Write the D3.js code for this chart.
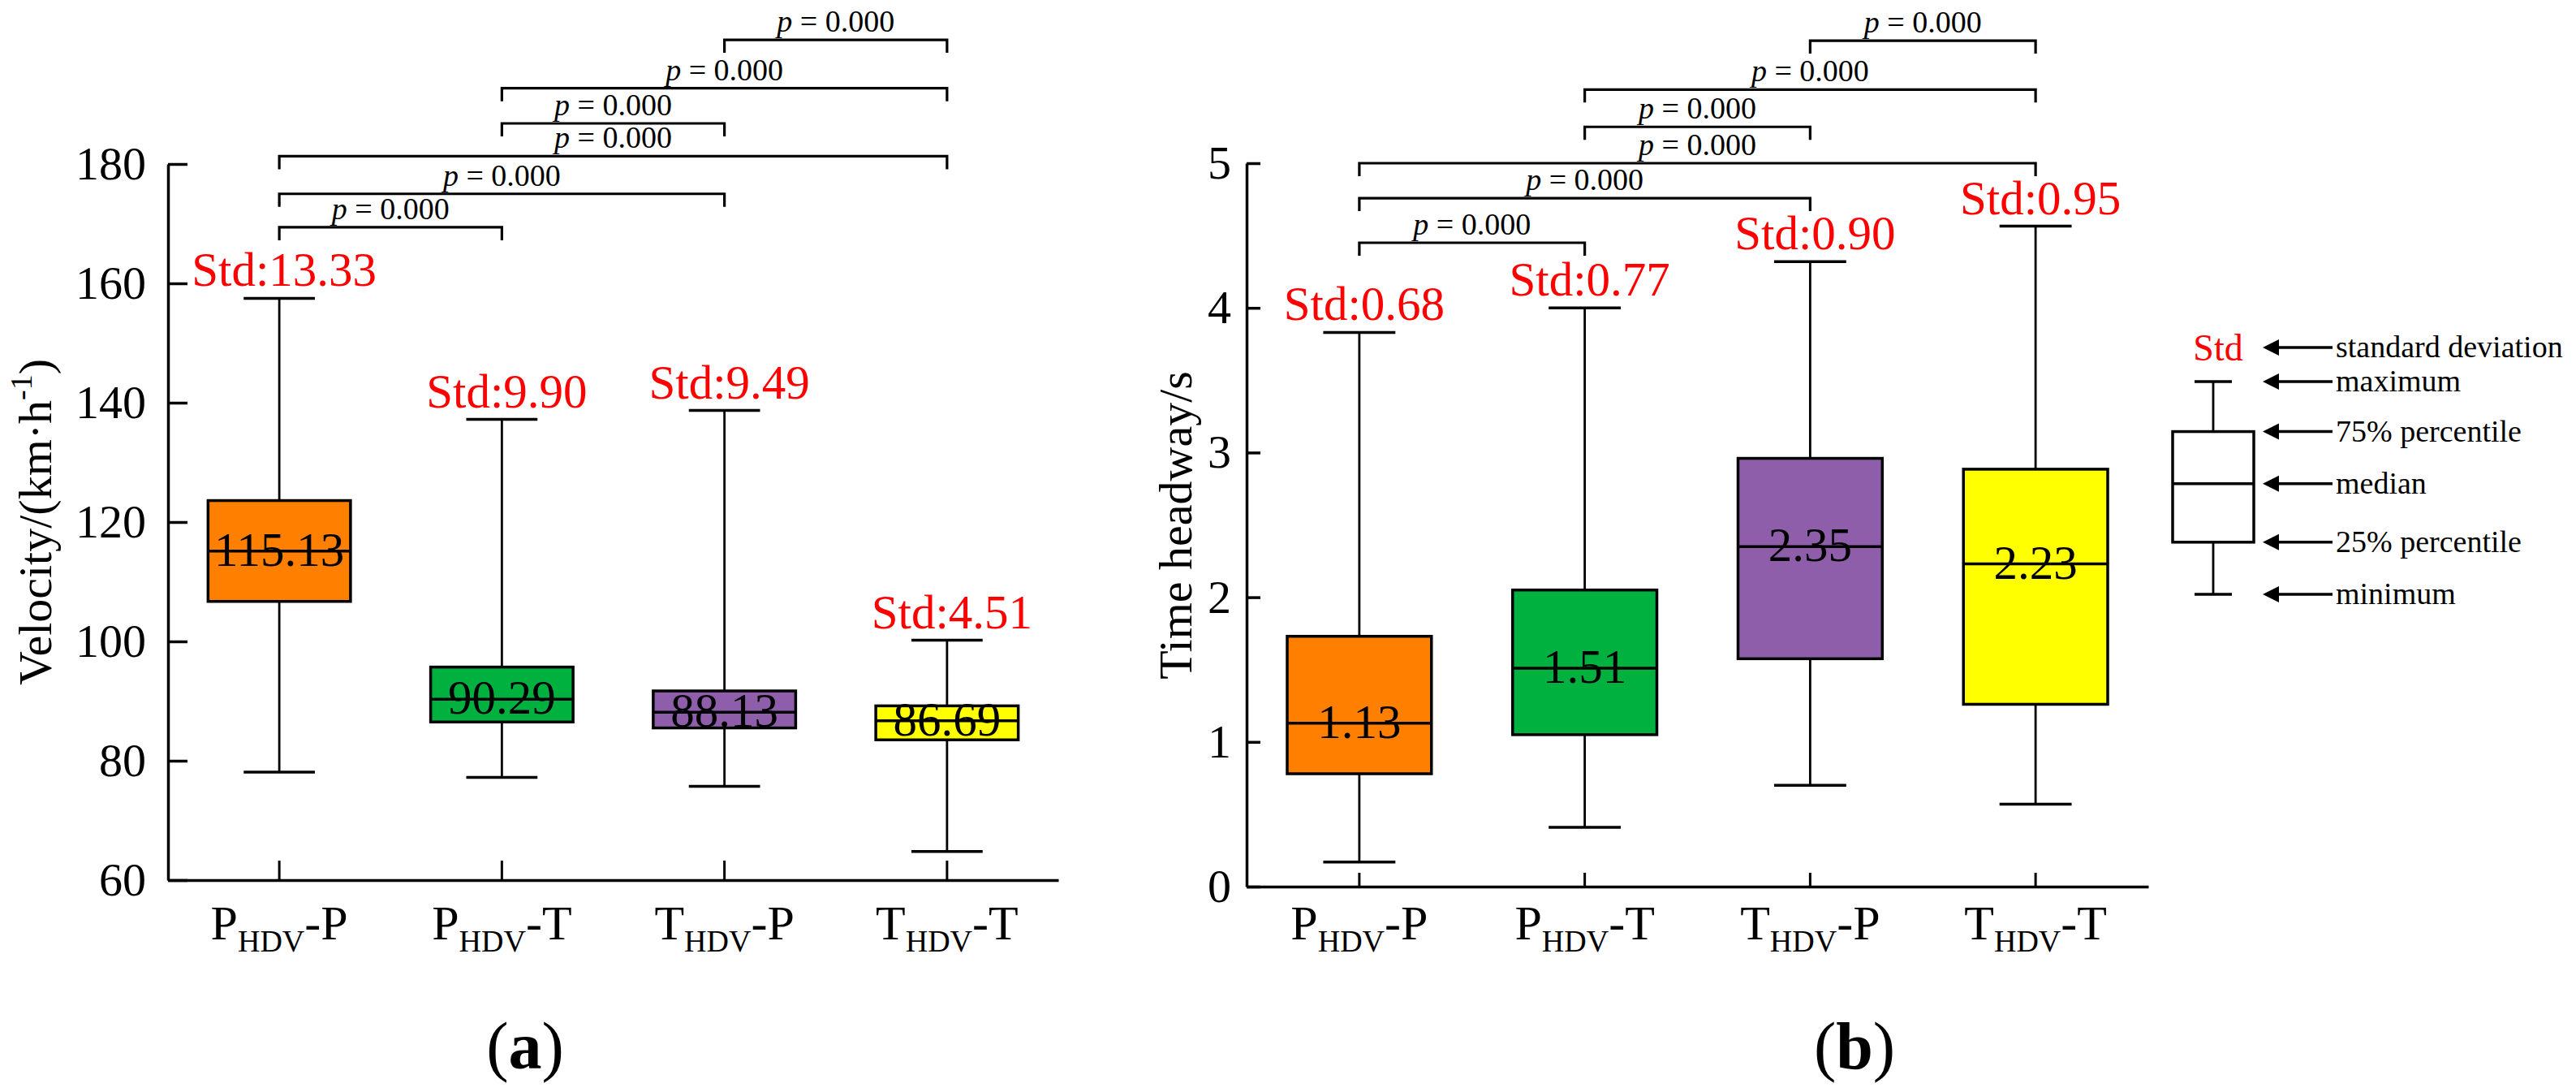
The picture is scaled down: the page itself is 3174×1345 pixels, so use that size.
<!DOCTYPE html>
<html>
<head>
<meta charset="utf-8">
<script src="https://cdn.jsdelivr.net/npm/d3@7"></script>
<style>
  body { margin: 0; background: #fff; }
  text { font-family: "Liberation Serif", "Times New Roman", serif; fill: #000; }
</style>
</head>
<body>
<svg id="chart" width="3174" height="1345"></svg>
<script>
// groups on the x axis : big letter + subscript + tail letter
const groupMain = ["P", "P", "T", "T"];
const groupTail = ["P", "T", "P", "T"];
const groupSub = "HDV";
const boxColors = ["#FF8000", "#00B140", "#8E5EAA", "#FFFF00"];

// (a) velocity km/h
const velMin = [78.1, 77.2, 75.7, 64.8];
const velQ1 = [106.7, 86.5, 85.5, 83.5];
const velMedian = [115.13, 90.29, 88.13, 86.69];
const velQ3 = [123.6, 95.7, 91.7, 89.2];
const velMax = [157.5, 137.2, 138.7, 100.2];
const velStd = ["13.33", "9.90", "9.49", "4.51"];
const velTicks = [60, 80, 100, 120, 140, 160, 180];
const velPairLevels = [169.4, 175.0, 181.3, 186.8, 192.7, 200.8];

// (b) time headway s
const hwMin = [0.17, 0.41, 0.70, 0.57];
const hwQ1 = [0.78, 1.05, 1.575, 1.26];
const hwMedian = [1.13, 1.51, 2.35, 2.23];
const hwQ3 = [1.73, 2.05, 2.96, 2.885];
const hwMax = [3.83, 4.00, 4.32, 4.565];
const hwStd = ["0.68", "0.77", "0.90", "0.95"];
const hwTicks = [0, 1, 2, 3, 4, 5];
const hwPairLevels = [4.45, 4.758, 5.0, 5.251, 5.509, 5.847];

// pairwise tests, same order in both panels
const pairs = [[0, 1], [0, 2], [0, 3], [1, 2], [1, 3], [2, 3]];
const pValues = ["0.000", "0.000", "0.000", "0.000", "0.000", "0.000"];

// legend (schematic box, arbitrary units)
const legendLabels = ["standard deviation", "maximum", "75% percentile", "median", "25% percentile", "minimum"];
const legendLevels = [11.6, 10, 7.65, 5.2, 2.45, 0];
const legendBox = [0, 2.45, 5.2, 7.65, 10]; // min q1 median q3 max

const svg = d3.select("#chart");

function drawPanel(p) {
  const g = svg.append("g");
  const x = d3.scaleBand().domain(d3.range(4)).range([p.left, p.right]);
  const y = d3.scaleLinear().domain(p.domain).range([p.bottom, p.top]);
  const bw = x.bandwidth() * 0.64;
  const cw = x.bandwidth() * 0.32;
  const cx = i => x(i) + x.bandwidth() / 2;

  // y axis, ticks inside
  const ya = g.append("g")
    .attr("transform", "translate(" + p.left + ",0)")
    .call(d3.axisLeft(y).tickValues(p.ticks).tickFormat(d3.format("d"))
      .tickSize(-p.tickLen).tickPadding(p.pad).tickSizeOuter(0));
  ya.select(".domain").attr("stroke-width", 3.5);
  ya.selectAll(".tick line").attr("stroke-width", 3.5);
  ya.selectAll(".tick text").style("font-size", "58px");

  // x axis, ticks inside, labels drawn by hand
  const xa = g.append("g")
    .attr("transform", "translate(0," + p.bottom + ")")
    .call(d3.axisBottom(x).tickSize(-p.tickLen).tickSizeOuter(0).tickFormat(""));
  xa.select(".domain").attr("stroke-width", 3.5);
  xa.selectAll(".tick line").attr("stroke-width", 3);

  d3.range(4).forEach(function(i) {
    const lab = g.append("text")
      .attr("x", cx(i)).attr("y", 1157)
      .attr("text-anchor", "middle")
      .style("font-size", "60px");
    lab.append("tspan").text(groupMain[i]);
    lab.append("tspan").attr("dy", 15).style("font-size", "38px").text(groupSub);
    lab.append("tspan").attr("dy", -15).text("-" + groupTail[i]);
  });

  // whiskers
  const boxes = g.selectAll("g.box")
    .data(d3.range(4))
    .enter()
    .append("g")
    .classed("box", true);

  boxes.append("line")
    .attr("x1", cx).attr("x2", cx)
    .attr("y1", i => y(p.max[i])).attr("y2", i => y(p.min[i]))
    .attr("stroke", "#000").attr("stroke-width", 2.8);
  boxes.append("line")
    .attr("x1", i => cx(i) - cw / 2).attr("x2", i => cx(i) + cw / 2)
    .attr("y1", i => y(p.max[i])).attr("y2", i => y(p.max[i]))
    .attr("stroke", "#000").attr("stroke-width", 3.5);
  boxes.append("line")
    .attr("x1", i => cx(i) - cw / 2).attr("x2", i => cx(i) + cw / 2)
    .attr("y1", i => y(p.min[i])).attr("y2", i => y(p.min[i]))
    .attr("stroke", "#000").attr("stroke-width", 3.5);

  boxes.append("rect")
    .attr("x", i => cx(i) - bw / 2)
    .attr("y", i => y(p.q3[i]))
    .attr("width", bw)
    .attr("height", i => y(p.q1[i]) - y(p.q3[i]))
    .attr("fill", i => boxColors[i])
    .attr("stroke", "#000").attr("stroke-width", 3.5);

  boxes.append("line")
    .attr("x1", i => cx(i) - bw / 2).attr("x2", i => cx(i) + bw / 2)
    .attr("y1", i => y(p.median[i])).attr("y2", i => y(p.median[i]))
    .attr("stroke", "#000").attr("stroke-width", 3.5);

  boxes.append("text")
    .attr("x", cx).attr("y", i => y(p.median[i]) + 18)
    .attr("text-anchor", "middle")
    .style("font-size", "59px")
    .text(i => d3.format(".2f")(p.median[i]));

  boxes.append("text")
    .attr("x", i => cx(i) + 6).attr("y", i => y(p.max[i]) - 15)
    .attr("text-anchor", "middle")
    .style("font-size", "59px")
    .style("fill", "#FF0000")
    .text(i => "Std:" + p.std[i]);

  // significance brackets
  const br = g.selectAll("g.pair")
    .data(pairs)
    .enter()
    .append("g")
    .classed("pair", true);
  br.append("path")
    .attr("d", (d, k) => {
      const yy = y(p.levels[k]);
      return "M" + cx(d[0]) + "," + (yy + 16) + "V" + yy + "H" + cx(d[1]) + "V" + (yy + 16);
    })
    .attr("fill", "none").attr("stroke", "#000").attr("stroke-width", 3.2);
  const pt = br.append("text")
    .attr("x", d => (cx(d[0]) + cx(d[1])) / 2)
    .attr("y", (d, k) => y(p.levels[k]) - 10)
    .attr("text-anchor", "middle")
    .style("font-size", "38px");
  pt.append("tspan").style("font-style", "italic").text("p");
  pt.append("tspan").text((d, k) => " = " + pValues[k]);

  // axis title
  const t = svg.append("text")
    .attr("transform", "translate(" + p.titleX + "," + p.titleY + ") rotate(-90)")
    .attr("text-anchor", "middle")
    .style("font-size", "58px");
  t.append("tspan").text(p.title);
  if (p.sup) {
    t.append("tspan").attr("dy", -24).style("font-size", "38px").text(p.sup);
    t.append("tspan").attr("dy", 24).text(")");
  }

  // panel letter
  const pl = svg.append("text")
    .attr("x", p.letterX).attr("y", 1316)
    .attr("text-anchor", "middle")
    .style("font-size", "82px");
  pl.append("tspan").text("(");
  pl.append("tspan").style("font-weight", "bold").text(p.letter);
  pl.append("tspan").text(")");
}

drawPanel({
  left: 207, right: 1304, top: 202, bottom: 1084,
  domain: [60, 180], ticks: velTicks, tickLen: 24, pad: 27,
  min: velMin, q1: velQ1, median: velMedian, q3: velQ3, max: velMax, std: velStd,
  levels: velPairLevels,
  title: "Velocity/(km·h", sup: "-1", titleX: 63, titleY: 643,
  letter: "a", letterX: 647
});

drawPanel({
  left: 1536, right: 2647, top: 201, bottom: 1092,
  domain: [0, 5], ticks: hwTicks, tickLen: 17, pad: 19,
  min: hwMin, q1: hwQ1, median: hwMedian, q3: hwQ3, max: hwMax, std: hwStd,
  levels: hwPairLevels,
  title: "Time headway/s", sup: null, titleX: 1468, titleY: 647,
  letter: "b", letterX: 2285
});

// legend
const lg = svg.append("g");
const ly = d3.scaleLinear().domain([0, 10]).range([732, 470]);
const lx = 2727;
lg.append("line").attr("x1", lx).attr("x2", lx).attr("y1", ly(legendBox[4])).attr("y2", ly(legendBox[0]))
  .attr("stroke", "#000").attr("stroke-width", 2.8);
[legendBox[0], legendBox[4]].forEach(function(v) {
  lg.append("line").attr("x1", lx - 23).attr("x2", lx + 23).attr("y1", ly(v)).attr("y2", ly(v))
    .attr("stroke", "#000").attr("stroke-width", 3.5);
});
lg.append("rect")
  .attr("x", lx - 50).attr("width", 100)
  .attr("y", ly(legendBox[3])).attr("height", ly(legendBox[1]) - ly(legendBox[3]))
  .attr("fill", "#fff").attr("stroke", "#000").attr("stroke-width", 3.5);
lg.append("line").attr("x1", lx - 50).attr("x2", lx + 50).attr("y1", ly(legendBox[2])).attr("y2", ly(legendBox[2]))
  .attr("stroke", "#000").attr("stroke-width", 3.5);
lg.append("text").attr("x", lx + 6).attr("y", ly(11)).attr("text-anchor", "middle")
  .style("font-size", "46px").style("fill", "#FF0000").text("Std");

const items = lg.selectAll("g.item")
  .data(legendLabels)
  .enter()
  .append("g")
  .classed("item", true)
  .attr("transform", (d, i) => "translate(0," + ly(legendLevels[i]) + ")");
items.append("line").attr("x1", 2805).attr("x2", 2874).attr("y1", 0).attr("y2", 0)
  .attr("stroke", "#000").attr("stroke-width", 3.5);
items.append("path").attr("d", "M2788,0L2808,-10L2808,10Z").attr("fill", "#000");
items.append("text").attr("x", 2878).attr("y", 12).style("font-size", "38px").text(d => d);
</script>
</body>
</html>
